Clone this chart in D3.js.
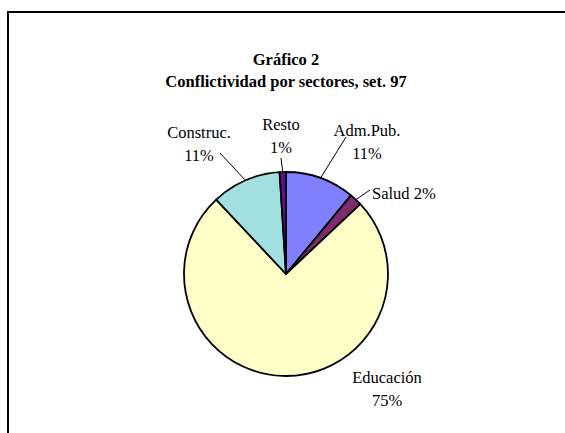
<!DOCTYPE html>
<html>
<head>
<meta charset="utf-8">
<script src="https://cdn.jsdelivr.net/npm/d3@7"></script>
<style>
  html, body { margin: 0; padding: 0; background: #fff; }
  svg { display: block; font-family: "Liberation Serif", "Times New Roman", serif; }
</style>
</head>
<body>
<div id="chart"></div>
<script>
const categories = ["Adm.Pub.", "Salud", "Educación", "Construc.", "Resto"];
const values = [11, 2, 75, 11, 1];
const sliceColors = ["#8080ff", "#7e2c6c", "#ffffc8", "#a2e0e0", "#5e0e8a"];
const titleLines = ["Gráfico 2", "Conflictividad por sectores, set. 97"];

// where each label sits, relative to the pie centre (px); "split" puts the % on a second line
const labelLayout = [
  { dx: 81, dy: -144, anchor: "middle", split: true, lead: [60, -137] },
  { dx: 86, dy: -81, anchor: "start", split: false, lead: [84, -84] },
  { dx: 101, dy: 103, anchor: "middle", split: true, lead: null },
  { dx: -87, dy: -142, anchor: "middle", split: true, lead: [-66, -121] },
  { dx: -5, dy: -150, anchor: "middle", split: true, lead: [-5, -116] }
];

const width = 565;
const height = 433;
const cx = 286;
const cy = 274;
const radius = 102;

const svg = d3.select("#chart")
  .append("svg")
  .attr("width", width)
  .attr("height", height);

// outer frame, it runs past the right and bottom edge of the picture
svg.append("rect")
  .attr("x", 8)
  .attr("y", 12)
  .attr("width", 640)
  .attr("height", 520)
  .attr("fill", "#fff")
  .attr("stroke", "#000")
  .attr("stroke-width", 2);

svg.append("text")
  .attr("text-anchor", "middle")
  .attr("font-weight", "bold")
  .attr("font-size", 16.5)
  .selectAll("tspan")
  .data(titleLines)
  .join("tspan")
  .attr("x", cx)
  .attr("y", (d, i) => 65 + i * 22)
  .text((d) => d);

const pie = d3.pie().sort(null).value((d) => d.value);
const arcs = pie(categories.map((name, i) => ({ name, value: values[i], i })));

const arc = d3.arc().innerRadius(0).outerRadius(radius);

const g = svg.append("g").attr("transform", `translate(${cx},${cy})`);

g.selectAll("path")
  .data(arcs)
  .join("path")
  .attr("d", arc)
  .attr("fill", (d) => sliceColors[d.data.i])
  .attr("stroke", "#000")
  .attr("stroke-width", 1.8)
  .attr("stroke-linejoin", "round");

// leader lines from the slice's mid angle on the rim to the label
g.selectAll("line.lead")
  .data(arcs.filter((d) => labelLayout[d.data.i].lead))
  .join("line")
  .attr("class", "lead")
  .attr("x1", (d) => Math.sin((d.startAngle + d.endAngle) / 2) * radius)
  .attr("y1", (d) => -Math.cos((d.startAngle + d.endAngle) / 2) * radius)
  .attr("x2", (d) => labelLayout[d.data.i].lead[0])
  .attr("y2", (d) => labelLayout[d.data.i].lead[1])
  .attr("stroke", "#000")
  .attr("stroke-width", 1);

const labels = g.selectAll("text.lbl")
  .data(arcs)
  .join("text")
  .attr("class", "lbl")
  .attr("font-size", 16.5)
  .attr("fill", "#000")
  .attr("text-anchor", (d) => labelLayout[d.data.i].anchor);

labels.each(function (d) {
  const lay = labelLayout[d.data.i];
  const pct = `${d.data.value}%`;
  const lines = lay.split ? [d.data.name, pct] : [`${d.data.name} ${pct}`];
  d3.select(this)
    .selectAll("tspan")
    .data(lines)
    .join("tspan")
    .attr("x", lay.dx)
    .attr("y", (t, k) => lay.dy + k * 23)
    .attr("dy", "0.35em")
    .text((t) => t);
});
</script>
</body>
</html>
